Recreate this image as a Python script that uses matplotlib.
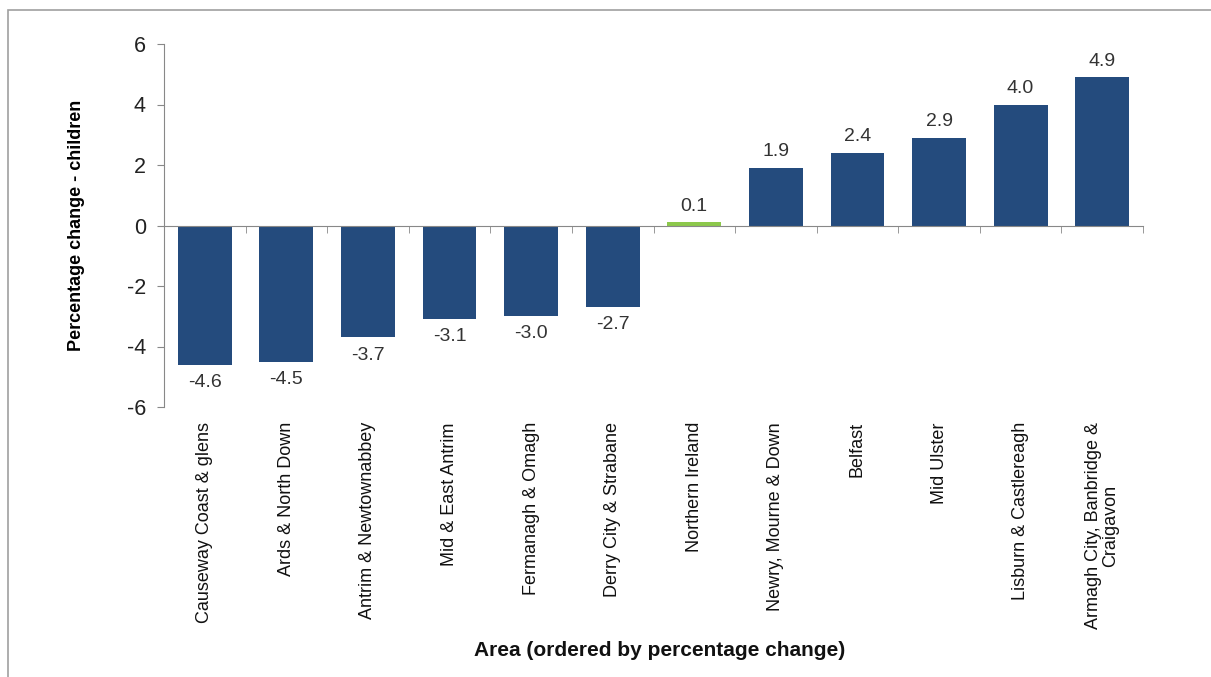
import matplotlib
matplotlib.use("Agg")
import matplotlib.pyplot as plt
from matplotlib.patches import Rectangle

areas = [
    "Causeway Coast & glens",
    "Ards & North Down",
    "Antrim & Newtownabbey",
    "Mid & East Antrim",
    "Fermanagh & Omagh",
    "Derry City & Strabane",
    "Northern Ireland",
    "Newry, Mourne & Down",
    "Belfast",
    "Mid Ulster",
    "Lisburn & Castlereagh",
    "Armagh City, Banbridge &\nCraigavon",
]
changes = [-4.6, -4.5, -3.7, -3.1, -3.0, -2.7, 0.1, 1.9, 2.4, 2.9, 4.0, 4.9]
highlight = "Northern Ireland"

plt.rcParams["font.family"] = ["Liberation Sans", "DejaVu Sans"]
plt.rcParams["axes.unicode_minus"] = False

blue = "#244b7d"
green = "#8cc84b"
text_col = "#333333"

fig = plt.figure(figsize=(12.11, 6.77), dpi=100)
fig.patches.append(Rectangle((8 / 1211, -0.1), 1.2, 1.1 - 10 / 677,
                             transform=fig.transFigure, fill=False,
                             edgecolor="#a0a0a0", linewidth=1.2))

ax = fig.add_axes([164 / 1211, 1 - 407 / 677, (1143 - 164) / 1211, (407 - 44) / 677])

x = list(range(len(areas)))
colors = [green if a == highlight else blue for a in areas]
ax.bar(x, changes, width=0.66, color=colors, zorder=2)

for xi, v in zip(x, changes):
    if v >= 0:
        ax.text(xi, v + 0.25, f"{v:.1f}", ha="center", va="bottom",
                fontsize=14, color=text_col)
    else:
        ax.text(xi, v - 0.3, f"{v:.1f}", ha="center", va="top",
                fontsize=14, color=text_col)

ax.set_xlim(-0.5, len(areas) - 0.5)
ax.set_ylim(-6, 6)
ax.set_yticks([-6, -4, -2, 0, 2, 4, 6])
ax.tick_params(axis="y", labelsize=15.5, length=5, color="#888888",
               labelcolor="#222222", pad=8)

# categories on a hidden axis, boundary ticks on the zero line
ax.set_xticks(x)
ax.set_xticklabels([])
ax.tick_params(axis="x", length=0)
ax.set_xticks([i - 0.5 for i in range(len(areas) + 1)], minor=True)
ax.tick_params(axis="x", which="minor", length=5, color="#888888", direction="out")

for s in ["top", "right"]:
    ax.spines[s].set_visible(False)
ax.spines["left"].set_color("#888888")
ax.spines["bottom"].set_position(("data", 0))
ax.spines["bottom"].set_color("#888888")

for xi, name in zip(x, areas):
    ax.text(xi, -6.5, name, rotation=90, ha="center", va="top",
            fontsize=13, color="#111111", multialignment="center",
            linespacing=1.05)

ax.set_ylabel("Percentage change - children", fontsize=13,
              fontweight="bold", labelpad=30)
fig.text(0.545, 1 - 650 / 677, "Area (ordered by percentage change)",
         ha="center", va="center", fontsize=15, fontweight="bold",
         color="#111111")

fig.savefig("out.png", dpi=100, facecolor="white")
